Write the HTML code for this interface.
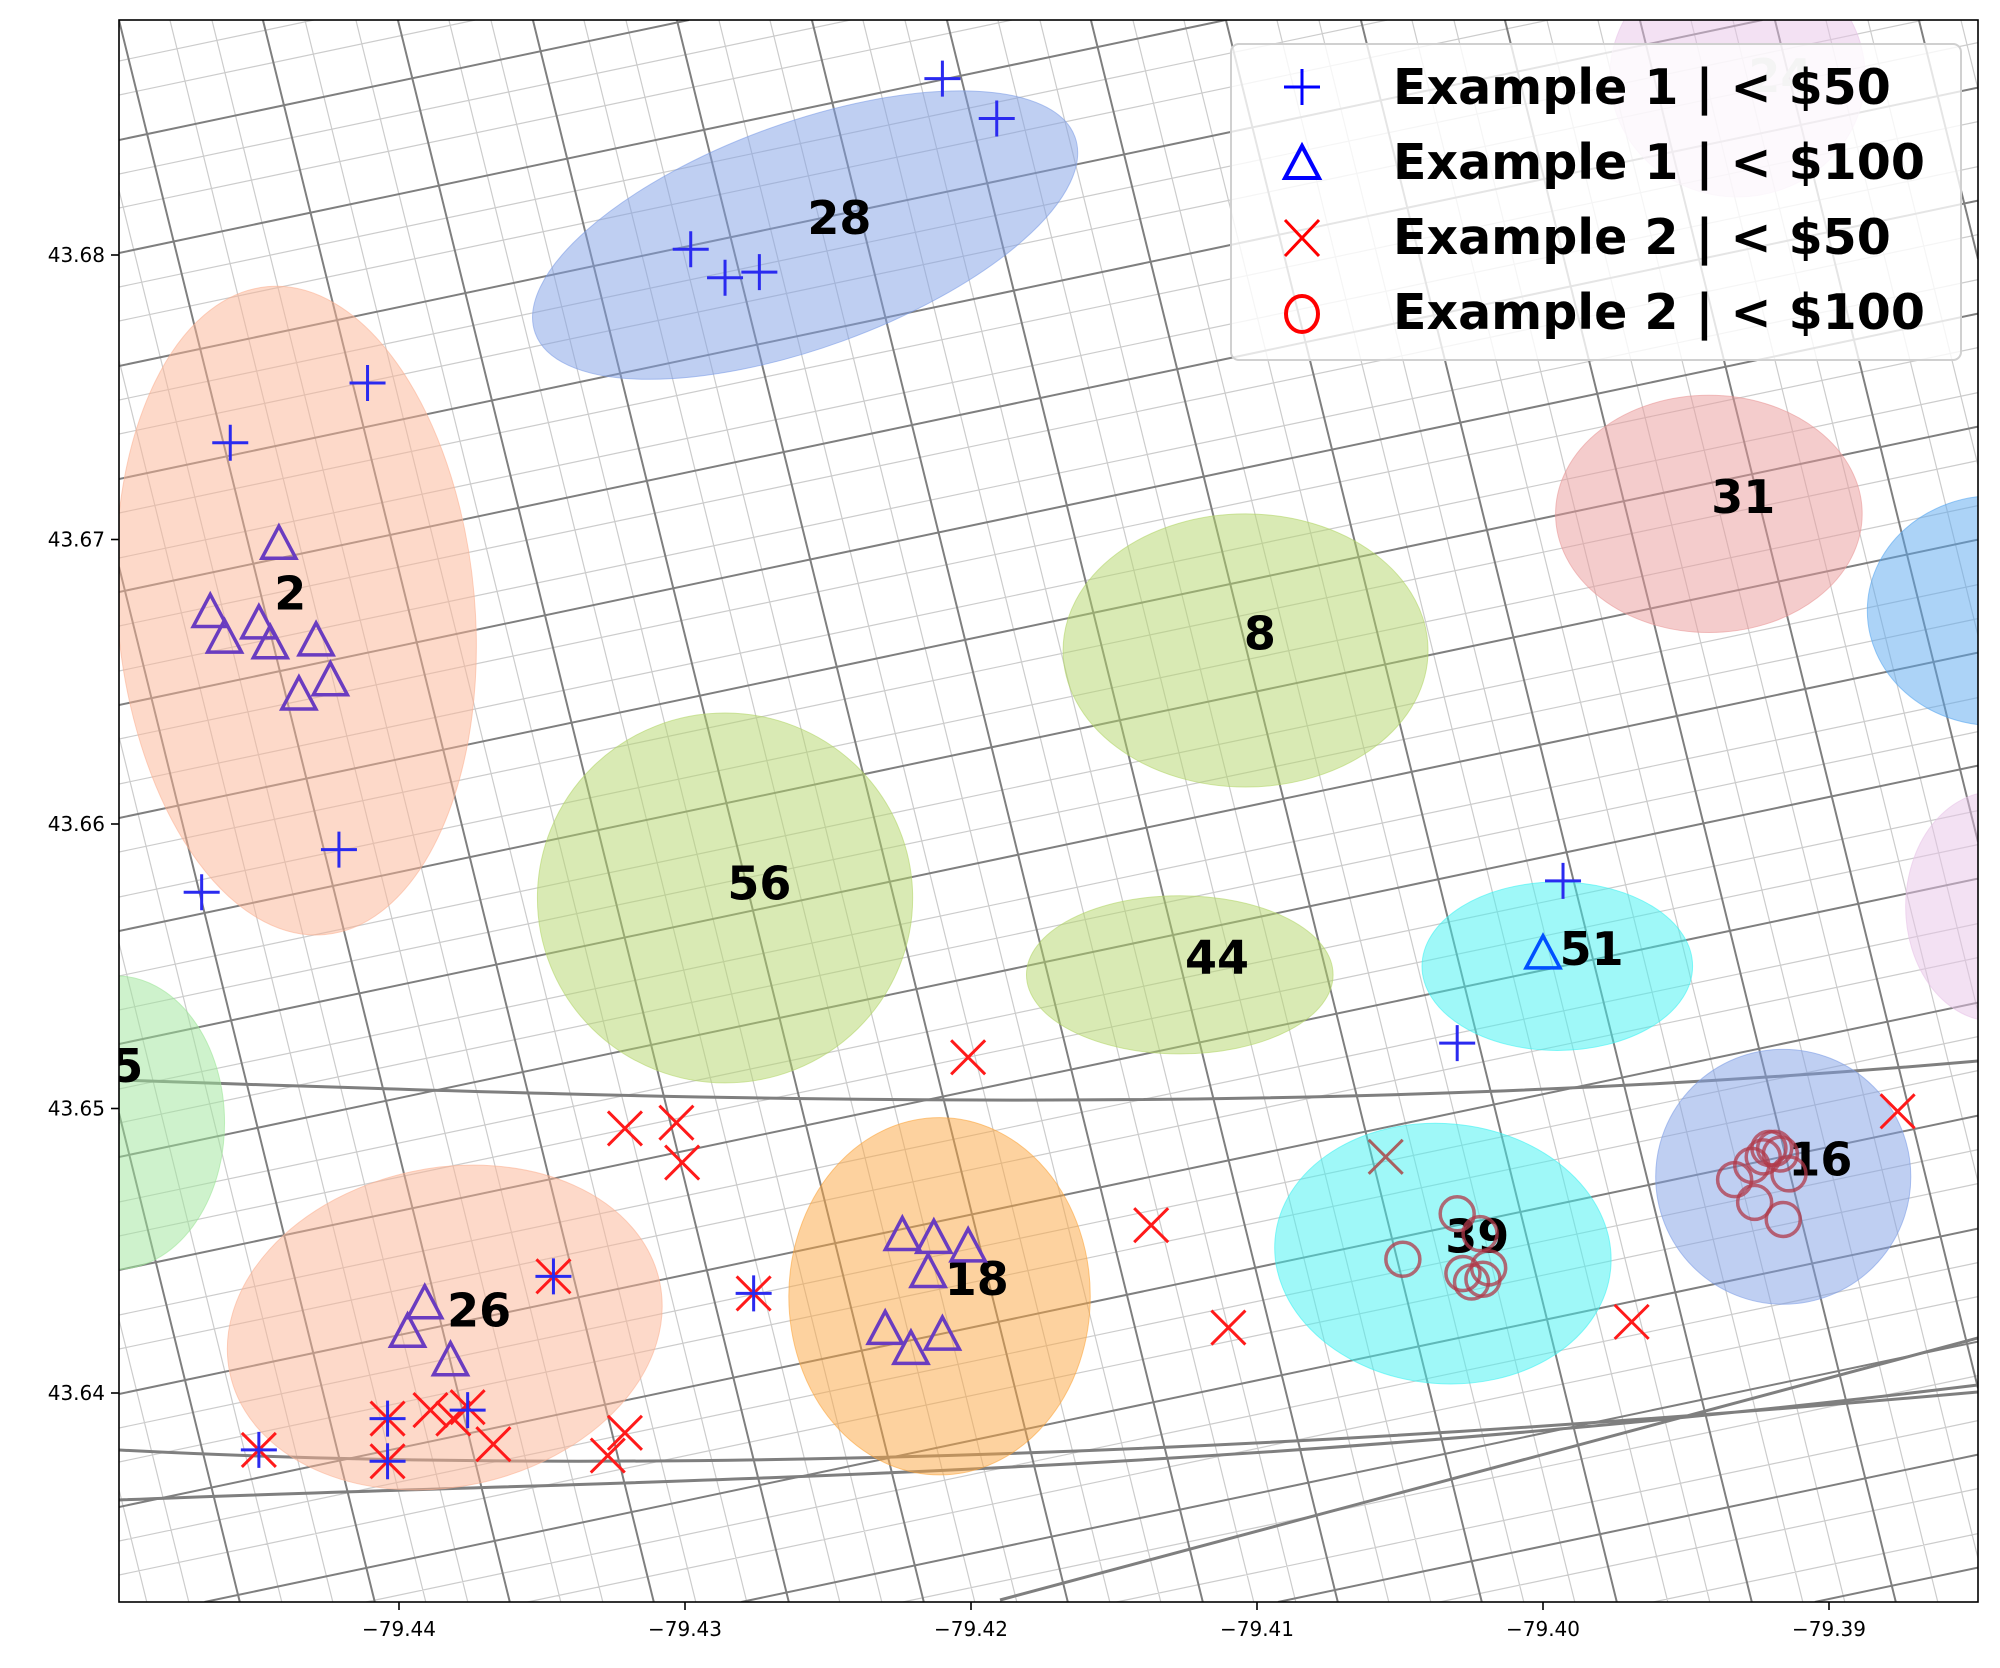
<!DOCTYPE html>
<html><head><meta charset="utf-8"><style>
html,body{margin:0;padding:0;background:#fff;width:2000px;height:1668px;overflow:hidden;}
svg{display:block;font-family:"DejaVu Sans","Liberation Sans",sans-serif;}
</style></head><body>
<svg id="chart" width="2000" height="1668" viewBox="0 0 2000 1668" xmlns="http://www.w3.org/2000/svg">
<defs><clipPath id="clip"><rect x="119" y="20" width="1859" height="1582"/></clipPath></defs>
<rect x="0" y="0" width="2000" height="1668" fill="#fff"/>
<g id="streets" clip-path="url(#clip)"></g>
<g id="ellipses" clip-path="url(#clip)"></g>
<g id="labels" clip-path="url(#clip)"></g>
<g id="marks" clip-path="url(#clip)"></g>
<rect x="119" y="20" width="1859" height="1582" fill="none" stroke="#000" stroke-width="1.6"/>
<g id="axes"></g>
<g id="legend">
  <rect x="1231" y="44" width="730" height="316" rx="8" fill="#fff" fill-opacity="0.8" stroke="#d0d0d0" stroke-width="2"/>
  <g>
    <path d="M1302 69 V105 M1284 87 H1320" stroke="#0000ff" stroke-width="3" fill="none"/>
    <text x="1393" y="104" font-size="49" font-weight="bold">Example 1 | &lt; $50</text>
  </g>
  <g>
    <path d="M1302 146 L1319 178 L1285 178 Z" stroke="#0000ff" stroke-width="4" fill="none"/>
    <text x="1393" y="179" font-size="49" font-weight="bold">Example 1 | &lt; $100</text>
  </g>
  <g>
    <path d="M1285 220 L1319 256 M1319 220 L1285 256" stroke="#ff0000" stroke-width="3" fill="none"/>
    <text x="1393" y="254" font-size="49" font-weight="bold">Example 2 | &lt; $50</text>
  </g>
  <g>
    <ellipse cx="1302" cy="314" rx="16" ry="18" stroke="#ff0000" stroke-width="4" fill="none"/>
    <text x="1393" y="329" font-size="49" font-weight="bold">Example 2 | &lt; $100</text>
  </g>
</g>
</svg>
<script>
// ---- data ----
const xTicks = [-79.44, -79.43, -79.42, -79.41, -79.40, -79.39];
const yTicks = [43.64, 43.65, 43.66, 43.67, 43.68];
const xTickLabels = ["\u221279.44","\u221279.43","\u221279.42","\u221279.41","\u221279.40","\u221279.39"];
const yTickLabels = ["43.64","43.65","43.66","43.67","43.68"];

const clusterIds   = ["28","2","31","","8","56","44","51","39","16","18","26","5","24",""];
const clusterLon   = [-79.4258,-79.4436,-79.3942,-79.3842,-79.4104,-79.4286,-79.4127,-79.3995,-79.4035,-79.3916,-79.4211,-79.4384,-79.4499,-79.3932,-79.3842];
const clusterLat   = [43.6807,43.6675,43.6709,43.6675,43.6661,43.6574,43.6547,43.6550,43.6449,43.6476,43.6434,43.6423,43.6495,43.6863,43.6571];
const clusterRLon  = [0.01004,0.00625,0.00536,0.00446,0.00638,0.00656,0.00536,0.00473,0.00589,0.00446,0.00527,0.00768,0.0038,0.00446,0.00312];
const clusterRLat  = [0.00395,0.01143,0.00417,0.00404,0.0048,0.0065,0.00278,0.00296,0.00457,0.00448,0.00628,0.0056,0.00516,0.00426,0.00404];
const clusterAngle = [-20,-5,0,0,0,0,0,0,5,0,0,-12,0,0,0];
const clusterColor = ["#7f9fe6","#fbb394","#ea9a9a","#5aa8f0","#b4d66a","#b4d66a","#b4d66a","#3ff2f2","#3ff2f2","#7f9fe6","#fba640","#fbb394","#9ee69a","#e7c4e7","#e7c4e7"];

const labelText = ["28","2","31","8","56","44","51","39","16","18","26","5","24"];
const labelLon  = [-79.4246,-79.4438,-79.3930,-79.4099,-79.4274,-79.4114,-79.3983,-79.4023,-79.3903,-79.4198,-79.4372,-79.4495,-79.3917];
const labelLat  = [43.6813,43.6681,43.6715,43.6667,43.6579,43.6553,43.6556,43.6455,43.6482,43.6440,43.6429,43.6515,43.6863];

const plusLon = [-79.4210,-79.4191,-79.4298,-79.4286,-79.4274,-79.4411,-79.4459,-79.4421,-79.4469,-79.3993,-79.4030,-79.4276,-79.4449,-79.4404,-79.4404,-79.4376,-79.4346];
const plusLat = [43.6862,43.6848,43.6802,43.6792,43.6794,43.6755,43.6734,43.6591,43.6576,43.6580,43.6523,43.6435,43.6380,43.6391,43.6376,43.6394,43.6441];

const triLon = [-79.4442,-79.4466,-79.4461,-79.4449,-79.4445,-79.4429,-79.4435,-79.4424,-79.4391,-79.4397,-79.4382,-79.4224,-79.4213,-79.4201,-79.4215,-79.4230,-79.4221,-79.4210];
const triLat = [43.6698,43.6674,43.6665,43.6670,43.6663,43.6664,43.6645,43.6650,43.6431,43.6421,43.6411,43.6455,43.6454,43.6451,43.6442,43.6422,43.6415,43.6420];
const triBlueLon = [-79.4000];
const triBlueLat = [43.6554];

const xLon = [-79.3876,-79.4201,-79.4321,-79.4303,-79.4301,-79.4137,-79.4110,-79.3969,-79.4321,-79.4327,-79.4449,-79.4346,-79.4276,-79.4404,-79.4389,-79.4381,-79.4376,-79.4367,-79.4404,-79.4055];
const xLat = [43.6499,43.6518,43.6493,43.6495,43.6481,43.6459,43.6423,43.6425,43.6386,43.6378,43.6380,43.6441,43.6435,43.6391,43.6394,43.6391,43.6395,43.6382,43.6376,43.6483];

const circLon = [-79.4049,-79.4030,-79.4022,-79.4028,-79.4021,-79.4019,-79.4025,-79.3921,-79.3927,-79.3933,-79.3917,-79.3914,-79.3926,-79.3916,-79.3919,-79.3923];
const circLat = [43.6447,43.6463,43.6456,43.6442,43.6440,43.6444,43.6439,43.6486,43.6480,43.6475,43.6484,43.6477,43.6467,43.6461,43.6486,43.6483];

// ---- scales ----
const X = lon => 399 + (lon + 79.44) * 28600;
const Y = lat => 255 + (43.68 - lat) * 28450;
const NS = "http://www.w3.org/2000/svg";
function mk(tag, attrs, parent){const e=document.createElementNS(NS,tag);for(const k in attrs)e.setAttribute(k,attrs[k]);parent.appendChild(e);return e;}

// clip a segment to the plot rectangle (Liang-Barsky)
function clipSeg(x1,y1,x2,y2){
  const xmin=119,xmax=1978,ymin=20,ymax=1602;
  let t0=0,t1=1;const dx=x2-x1,dy=y2-y1;
  const p=[-dx,dx,-dy,dy],q=[x1-xmin,xmax-x1,y1-ymin,ymax-y1];
  for(let i=0;i<4;i++){
    if(p[i]===0){if(q[i]<0)return "";}
    else{const r=q[i]/p[i];if(p[i]<0){if(r>t1)return "";if(r>t0)t0=r;}else{if(r<t0)return "";if(r<t1)t1=r;}}
  }
  return `M${(x1+t0*dx).toFixed(1)} ${(y1+t0*dy).toFixed(1)} L${(x1+t1*dx).toFixed(1)} ${(y1+t1*dy).toFixed(1)} `;
}

// ---- streets (background texture) ----
const st = document.getElementById('streets');
let d1="",d2="",d3="";
for(let i=-30;i<60;i++){
  const y0 = 20 + i*38 + ((i*7)%11);
  const seg = clipSeg(100,y0,2000,y0-400);
  if(i%3===0) d1+=seg; else d3+=seg;
}
for(let i=-10;i<60;i++){
  const x0 = -300 + i*46 + ((i*5)%9);
  const seg = clipSeg(x0,0,x0+420,1700);
  if(i%3===0) d1+=seg; else d3+=seg;
}
d2 += "M119 1500 C600 1480 1200 1480 1978 1385 M119 1450 C500 1470 1100 1470 1978 1392 M119 1080 C700 1100 1300 1120 1978 1061 M1000 1600 L1978 1338";
mk('path',{d:d3,stroke:'#cccccc','stroke-width':1.2,fill:'none'},st);
mk('path',{d:d1,stroke:'#7f7f7f','stroke-width':2,fill:'none'},st);
mk('path',{d:d2,stroke:'#7f7f7f','stroke-width':3,fill:'none'},st);

// ---- ellipses ----
const eg = document.getElementById('ellipses');
for(let i=0;i<clusterLon.length;i++){
  const cx=X(clusterLon[i]), cy=Y(clusterLat[i]);
  const rx=X(clusterLon[i]+clusterRLon[i])-cx, ry=cy-Y(clusterLat[i]+clusterRLat[i]);
  const e=mk('ellipse',{cx:cx,cy:cy,rx:rx,ry:ry,transform:`rotate(${clusterAngle[i]} ${cx} ${cy})`,fill:clusterColor[i],'fill-opacity':0.5,stroke:clusterColor[i],'stroke-opacity':0.6},eg);
  
  
}
// ---- labels ----
const lg = document.getElementById('labels');
for(let i=0;i<labelText.length;i++){
  const t=mk('text',{x:X(labelLon[i]),y:Y(labelLat[i]),'font-size':46,'font-weight':'bold','text-anchor':'middle','dominant-baseline':'central',fill:labelText[i]==="24"?"#c8c8c8":"#000"},lg);
  t.textContent=labelText[i];
  
  
}
// ---- markers ----
const mg = document.getElementById('marks');
for(let i=0;i<circLon.length;i++){
  const c=mk('circle',{cx:X(circLon[i]),cy:Y(circLat[i]),r:17,fill:'none',stroke:'#b03a4a','stroke-opacity':0.75,'stroke-width':3.5},mg);
  
  
}
for(let i=0;i<triLon.length;i++){
  const x=X(triLon[i]),y=Y(triLat[i]);
  const p=mk('path',{d:`M${x} ${y-19} L${x+17} ${y+13} L${x-17} ${y+13} Z`,fill:'none',stroke:'#6a3cc0','stroke-width':3.5},mg);
  
  
}
for(let i=0;i<triBlueLon.length;i++){
  const x=X(triBlueLon[i]),y=Y(triBlueLat[i]);
  const p=mk('path',{d:`M${x} ${y-19} L${x+17} ${y+13} L${x-17} ${y+13} Z`,fill:'none',stroke:'#0050ff','stroke-width':3.5},mg);
  
  
}
for(let i=0;i<xLon.length;i++){
  const x=X(xLon[i]),y=Y(xLat[i]);
  const p=mk('path',{d:`M${x-17} ${y-17} L${x+17} ${y+17} M${x+17} ${y-17} L${x-17} ${y+17}`,fill:'none',stroke:i===xLon.length-1?'#a86060':'#ff1a1a','stroke-width':3},mg);
  
  
}
for(let i=0;i<plusLon.length;i++){
  const x=X(plusLon[i]),y=Y(plusLat[i]);
  const p=mk('path',{d:`M${x} ${y-18} V${y+18} M${x-18} ${y} H${x+18}`,fill:'none',stroke:'#2a2af0','stroke-width':3},mg);
  
  
}
// ---- axes ----
const ag = document.getElementById('axes');
for(let i=0;i<xTicks.length;i++){
  const x=X(xTicks[i]);
  mk('line',{x1:x,x2:x,y1:1602,y2:1610,stroke:'#000','stroke-width':1.6},ag);
  const t=mk('text',{x:x,y:1636,'font-size':20,'text-anchor':'middle'},ag);
  t.textContent=xTickLabels[i];
  
  
}
for(let i=0;i<yTicks.length;i++){
  const y=Y(yTicks[i]);
  mk('line',{x1:111,x2:119,y1:y,y2:y,stroke:'#000','stroke-width':1.6},ag);
  const t=mk('text',{x:105,y:y+7,'font-size':20,'text-anchor':'end'},ag);
  t.textContent=yTickLabels[i];
  
  
}
</script>
</body></html>
